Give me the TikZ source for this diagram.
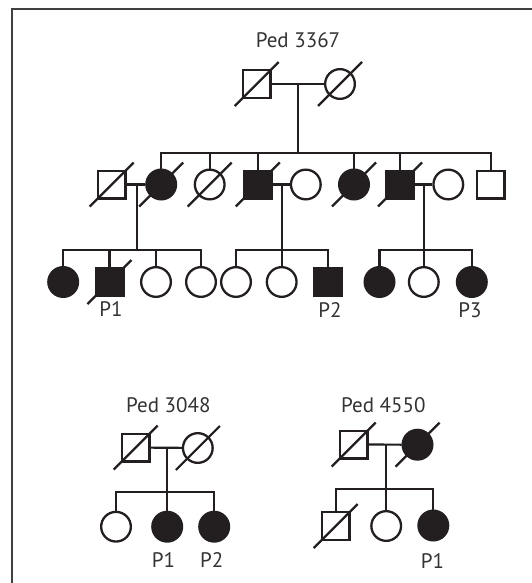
\documentclass[tikz,border=0pt]{standalone}
\usepackage{fontspec}
\setmainfont{PT Sans}
\definecolor{ink}{HTML}{231F20}
\definecolor{txt}{HTML}{333333}
\newcommand{\deadslash}[1]{\draw[con] ([shift={(-22,22)}]#1.center) -- ([shift={(22,-22)}]#1.center);}
\begin{document}
\begin{tikzpicture}[x=1pt,y=-1pt,
  sym/.style={draw=ink,line width=2.3pt,inner sep=0pt},
  male/.style={sym,rectangle,minimum size=27.7pt},
  female/.style={sym,circle,minimum size=29.7pt},
  aff/.style={fill=ink},
  con/.style={draw=ink,line width=2.2pt},
  lab/.style={text=txt,font=\fontsize{21}{24}\selectfont,inner sep=0pt},
  frameline/.style={draw=black!75,line width=1.6pt}]
\useasboundingbox (0,0) rectangle (532,583);
% frame
\coordinate (fa) at (12,583);
\coordinate (fb) at (12,9);
\coordinate (fc) at (532,9);
\draw[frameline] (fa) -- (fb) -- (fc);

% ---------------- Ped 3367 ----------------
\node[lab] (t1) at (298,40) {Ped 3367};
\node[male] (g1m) at (256.7,84) {};
\node[female] (g1f) at (340,84) {};
\draw[con] (g1m) -- (g1f);
\coordinate (g1d) at (298.3,84);
\coordinate (g1s) at (298.3,153.3);
\draw[con] (g1d) -- (g1s);

% generation 2
\node[male] (a1) at (111.7,184.5) {};
\node[female,aff] (a2) at (161.2,184.5) {};
\node[female] (a3) at (209.7,184.5) {};
\node[male,aff] (a4) at (257.8,184.5) {};
\node[female] (a5) at (305.8,184.5) {};
\node[female,aff] (a6) at (354,184.5) {};
\node[male,aff] (a7) at (400,184.5) {};
\node[female] (a8) at (448.3,184.5) {};
\node[male] (a9) at (490.7,184.5) {};
\foreach \c in {a2,a3,a4,a6,a7,a9} \draw[con] (g1s) -| (\c);
\draw[con] (a1) -- (a2);
\draw[con] (a4) -- (a5);
\draw[con] (a7) -- (a8);

% family 1 children
\coordinate (f1d) at (137,184.5);
\coordinate (f1s) at (137,250);
\draw[con] (f1d) -- (f1s);
\node[female,aff] (b1) at (63.2,282) {};
\node[male,aff] (b2) at (109.5,282) {};
\node[female] (b3) at (156,282) {};
\node[female] (b4) at (201,282) {};
\foreach \c in {b1,b2,b3,b4} \draw[con] (f1s) -| (\c);

% family 2 children
\coordinate (f2d) at (281.7,184.5);
\coordinate (f2s) at (281.7,250);
\draw[con] (f2d) -- (f2s);
\node[female] (b5) at (236,282) {};
\node[female] (b6) at (281.7,282) {};
\node[male,aff] (b7) at (328,282) {};
\foreach \c in {b5,b6,b7} \draw[con] (f2s) -| (\c);

% family 3 children
\coordinate (f3d) at (423.8,184.5);
\coordinate (f3s) at (423.8,250);
\draw[con] (f3d) -- (f3s);
\node[female,aff] (b8) at (379.5,282) {};
\node[female] (b9) at (423.8,282) {};
\node[female,aff] (b10) at (471.8,282) {};
\foreach \c in {b8,b9,b10} \draw[con] (f3s) -| (\c);

\node[lab] (lp1) at (111,309.5) {P1};
\node[lab] (lp2) at (330,310) {P2};
\node[lab] (lp3) at (470,310) {P3};

% deceased marks
\deadslash{g1m}
\deadslash{g1f}
\deadslash{a1}
\deadslash{a2}
\deadslash{a3}
\deadslash{a4}
\deadslash{a6}
\deadslash{a7}
\deadslash{b2}

% ---------------- Ped 3048 ----------------
\node[lab] (t2) at (168.3,405) {Ped 3048};
\node[male] (c1) at (135.7,447.5) {};
\node[female] (c2) at (197.8,448) {};
\draw[con] (c1) -- (c2);
\coordinate (cd) at (167.2,447.5);
\coordinate (cs) at (167.2,491.7);
\draw[con] (cd) -- (cs);
\node[female] (c3) at (116,526.7) {};
\node[female,aff] (c4) at (167.2,526.7) {};
\node[female,aff] (c5) at (214.2,526.7) {};
\foreach \c in {c3,c4,c5} \draw[con] (cs) -| (\c);
\node[lab] (lc4) at (163.5,560.5) {P1};
\node[lab] (lc5) at (211.7,560.5) {P2};
\deadslash{c1}
\deadslash{c2}

% ---------------- Ped 4550 ----------------
\node[lab] (t3) at (383.3,405) {Ped 4550};
\node[male] (d1) at (353.7,444.5) {};
\node[female,aff] (d2) at (417.5,444.7) {};
\draw[con] (d1) -- (d2);
\coordinate (dd) at (386.2,445);
\coordinate (ds) at (386.2,489.3);
\draw[con] (dd) -- (ds);
\node[male] (d3) at (335.7,526) {};
\node[female] (d4) at (386.2,526) {};
\node[female,aff] (d5) at (433.3,525.5) {};
\foreach \c in {d3,d4,d5} \draw[con] (ds) -| (\c);
\node[lab] (ld5) at (432.5,561) {P1};
\deadslash{d1}
\deadslash{d2}
\deadslash{d3}
\end{tikzpicture}
\end{document}
